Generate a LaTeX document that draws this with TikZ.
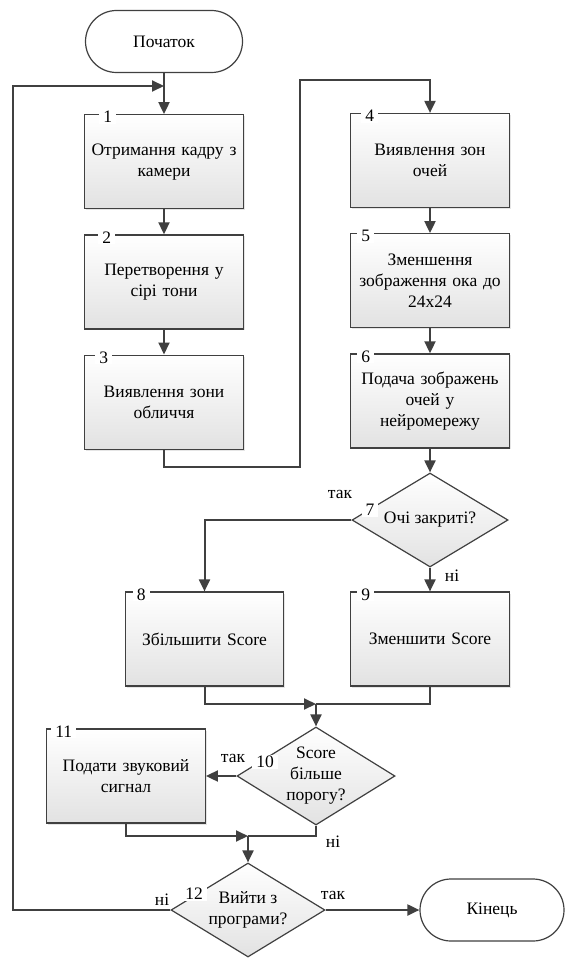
\documentclass[tikz,border=0pt]{standalone}
\usepackage{fontspec}
\setmainfont{Liberation Serif}
\newfontfamily\diagfont{Liberation Serif}
\usetikzlibrary{arrows.meta,shapes.geometric,positioning,calc,shadows}
\definecolor{linegray}{RGB}{64,64,64}
\definecolor{boxbot}{RGB}{226,226,226}
\newcommand{\boxfont}{\diagfont\fontsize{17.5}{21}\selectfont}
\tikzset{%
  >={Triangle[width=11pt,length=12pt]},
  % Specifications for style of nodes:
            proc/.style = {rectangle, draw=linegray, line width=1.2pt,
                           minimum width=156pt, minimum height=94pt,
                           top color=white, bottom color=boxbot,
                           drop shadow={shadow xshift=1.5pt, shadow yshift=-1.5pt, fill=black!20},
                           text width=152pt, align=center, font=\boxfont},
            decide/.style = {diamond, aspect=1.65, draw=linegray, line width=1.2pt, inner sep=0pt,
                           top color=white, bottom color=boxbot,
                           align=center, font=\boxfont},
            term/.style = {rectangle, rounded corners=31pt, draw=linegray, line width=1.2pt,
                           fill=white, minimum height=62pt, font=\boxfont},
            num/.style = {fill=white, inner xsep=4pt, inner ysep=1pt, font=\boxfont},
            ans/.style = {inner sep=0pt, font=\boxfont},
            conn/.style = {draw=linegray, line width=2pt}
                           }

\begin{document}
\begin{tikzpicture}[x=1pt, y=-1pt]
                    \fill[white] (0,0) rectangle (567,958);
                    \useasboundingbox (0,0) rectangle (567,958);

                    \node (start) [term, minimum width=157pt] at (164,41.5) {Початок};
                    \node (b1)    [proc, below=41pt of start]  {Отримання кадру з\\камери};
                    \node (b2)    [proc, below=25pt of b1]     {Перетворення у\\сірі тони};
                    \node (b3)    [proc, below=25pt of b2]     {Виявлення зони\\обличчя};

                    \node (b4)    [proc] at (430,160.5)        {Виявлення зон\\очей};
                    \node (b5)    [proc, below=25pt of b4]     {Зменшення\\зображення ока до\\24x24};
                    \node (b6)    [proc, below=25pt of b5]     {Подача зображень\\очей у\\нейромережу};
                    \node (d7)    [decide, minimum width=156pt, minimum height=94pt] at (430,520) {Очі закриті?};
                    \node (b9)    [proc] at (430,639)          {Зменшити Score};
                    \node (b8)    [proc] at (204.5,639)        {Збільшити Score};

                    \node (d10)   [decide, minimum width=158pt, minimum height=98pt] at (316,776) {Score\\більше\\порогу?};
                    \node (b11)   [proc] at (126,776)          {Подати звуковий\\сигнал};
                    \node (d12)   [decide, minimum width=154pt, minimum height=94pt] at (248,910) {Вийти з\\програми?};
                    \node (end)   [term, minimum width=144pt] at (492,910) {Кінець};

                    % numbers of the blocks
                    \node (k1)  [num, anchor=west] at ($(b1.north west)+(15,3)$)  {1};
                    \node (k2)  [num, anchor=west] at ($(b2.north west)+(14,3)$)  {2};
                    \node (k3)  [num, anchor=west] at ($(b3.north west)+(11,3)$)  {3};
                    \node (k4)  [num, anchor=west] at ($(b4.north west)+(11,3)$)  {4};
                    \node (k5)  [num, anchor=west] at ($(b5.north west)+(7,3)$)   {5};
                    \node (k6)  [num, anchor=west] at ($(b6.north west)+(7,3)$)   {6};
                    \node (k8)  [num, anchor=west] at ($(b8.north west)+(8,3)$)   {8};
                    \node (k9)  [num, anchor=west] at ($(b9.north west)+(7,3)$)   {9};
                    \node (k11) [num, anchor=west] at ($(b11.north west)+(5,3)$)  {11};
                    \node (k7)  [num] at ($(d7.center)+(-60,-10)$)  {7};
                    \node (k10) [num] at ($(d10.center)+(-51,-14)$) {10};
                    \node (k12) [num] at ($(d12.center)+(-54,-16)$) {12};

                    \coordinate (up)   at (300,80);
                    \coordinate (m1)   at (316,704);
                    \coordinate (m2)   at (248,836);
                    \coordinate (back) at (164,86);

                    \draw[conn,->]  (start) -- (b1);
                    \draw[conn,->]  (b1) -- (b2);
                    \draw[conn,->]  (b2) -- (b3);
                    \draw[conn,->]  (b3.south) -- ++(0,17) -| (up) -| (b4.north);
                    \draw[conn,->]  (b4) -- (b5);
                    \draw[conn,->]  (b5) -- (b6);
                    \draw[conn,->]  (b6) -- (d7);
                    \draw[conn,->]  (d7.west) -| (b8.north);
                    \draw[conn,->]  (d7.south) -- (b9.north);
                    \draw[conn,->]  (b8.south) |- (m1);
                    \draw[conn]     (b9.south) |- (m1);
                    \draw[conn,->]  (m1) -- (d10.north);
                    \draw[conn,->]  (d10.west) -- (b11.east);
                    \draw[conn,->]  (b11.south) |- (m2);
                    \draw[conn]     (d10.south) |- (m2);
                    \draw[conn,->]  (m2) -- (d12.north);
                    \draw[conn,->]  (d12.east) -- (end.west);
                    \draw[conn,->]  (d12.west) -| (13,86) -- (back);

                    \node (t7)  [ans] at (340,494) {так};
                    \node (n7)  [ans] at (452,576) {ні};
                    \node (t10) [ans] at (233,758) {так};
                    \node (n10) [ans] at (333,842) {ні};
                    \node (n12) [ans] at (162,900) {ні};
                    \node (t12) [ans] at (333,895) {так};
                \end{tikzpicture}
\end{document}
